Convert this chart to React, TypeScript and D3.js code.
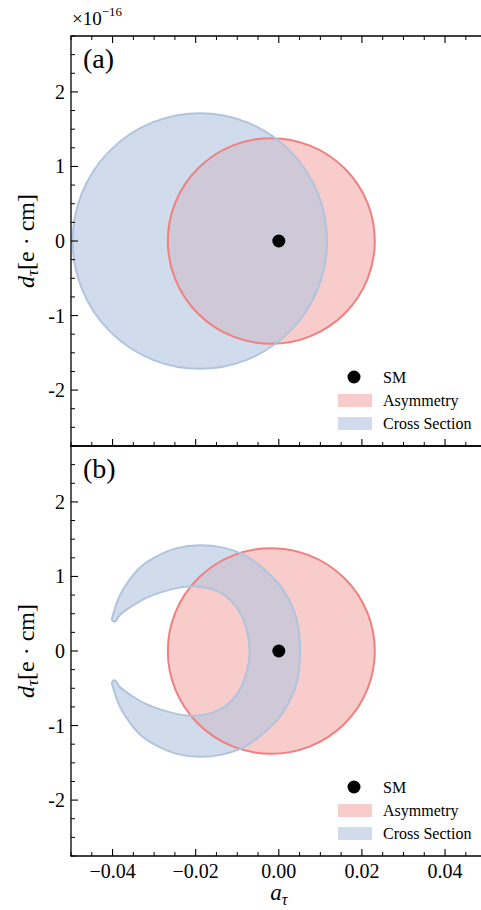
import React from "react";
import * as d3 from "d3";

// ---------- data ----------
const xDomain = [-0.05, 0.05];
const yDomain = [-2.75, 2.75];
const xMajorTicks = [-0.04, -0.02, 0, 0.02, 0.04];
const xTickLabels = ["\u22120.04", "\u22120.02", "0.00", "0.02", "0.04"];
const yMajorTicks = [-2, -1, 0, 1, 2];
const yTickLabels = ["-2", "-1", "0", "1", "2"];

const smPoint = [0, 0];
const asymCenter = [-0.0018, 0];
const asymRadius = [0.0249, 1.38];
const xsecCenterA = [-0.019, 0];
const xsecRadiusA = [0.0306, 1.715];

// crescent (panel b) upper-half boundary, mirrored for lower half
const crescentOuterA = [-0.0401, -0.0397, -0.0383, -0.0361, -0.0332, -0.0294, -0.0245, -0.019, -0.0137, -0.0084, -0.0036, 0.0007, 0.0036, 0.0048, 0.0051];
const crescentOuterD = [0.415, 0.52, 0.74, 0.94, 1.13, 1.27, 1.38, 1.42, 1.39, 1.29, 1.1, 0.85, 0.55, 0.28, 0];
const crescentInnerA = [-0.0394, -0.0383, -0.0354, -0.032, -0.0282, -0.0240, -0.0205, -0.0168, -0.0131, -0.0101, -0.0078, -0.007];
const crescentInnerD = [0.395, 0.48, 0.6, 0.71, 0.79, 0.85, 0.87, 0.84, 0.75, 0.58, 0.3, 0];

const legendLabels = ["SM", "Asymmetry", "Cross Section"];

// ---------- style ----------
const RED_FILL = "rgba(240,128,128,0.4)";
const RED_EDGE = "#f08080";
const BLUE_FILL = "rgba(176,196,222,0.6)";
const BLUE_EDGE = "#b0c4de";
const FONT = "Liberation Serif";

const W = 481;
const H = 910;
const LEFT = 71;
const RIGHT = 486.6;

const T = (props: any) => <text style={{ fontFamily: FONT }} fill="#000" {...props} />;

export default function App() {
  const x = d3.scaleLinear().domain(xDomain).range([LEFT, RIGHT]);
  const panels = [
    { key: "a", top: 36, bottom: 446, label: "(a)", topTicks: true },
    { key: "b", top: 446, bottom: 856, label: "(b)", topTicks: false },
  ];

  const xMinor = d3.range(-0.05, 0.0501, 0.005).filter(
    (v) => !xMajorTicks.some((m) => Math.abs(m - v) < 1e-9)
  );
  const yMinor = d3.range(-2.75, 2.7501, 0.25).filter(
    (v) => !yMajorTicks.some((m) => Math.abs(m - v) < 1e-9)
  );

  const upperOuter = crescentOuterA.map((a, i) => [a, crescentOuterD[i]]);
  const lowerOuter = upperOuter.slice(0, -1).reverse().map(([a, d]) => [a, -d]);
  const upperInner = crescentInnerA.map((a, i) => [a, crescentInnerD[i]]);
  const lowerInner = upperInner.map(([a, d]) => [a, -d]);
  const innerBack = upperInner.slice(0, -1).reverse();
  const crescentPts = [...upperOuter, ...lowerOuter, ...lowerInner, ...innerBack];

  return (
    <svg
      width={W}
      height={H}
      style={{ position: "absolute", left: 0, top: 0, background: "#fff", fontFamily: FONT }}
    >
      <rect x={0} y={0} width={W} height={H} fill="#fff" />
      <defs>
        {panels.map((p) => (
          <clipPath id={`clip-${p.key}`} key={p.key}>
            <rect x={LEFT} y={p.top} width={RIGHT - LEFT} height={p.bottom - p.top} />
          </clipPath>
        ))}
      </defs>
      {panels.map((p, pi) => {
        const y = d3.scaleLinear().domain(yDomain).range([p.bottom, p.top]);
        const rx = (c: number[], r: number[]) => x(c[0] + r[0]) - x(c[0]);
        const ry = (c: number[], r: number[]) => y(c[1]) - y(c[1] + r[1]);
        const line = d3
          .line<number[]>()
          .x((d) => x(d[0]))
          .y((d) => y(d[1]))
          .curve(d3.curveCatmullRomClosed.alpha(0.5));
        const crescentPath = line(crescentPts) || "";
        const legTop = p.top;
        return (
          <g key={p.key}>
            <g clipPath={`url(#clip-${p.key})`}>
              <ellipse
                cx={x(asymCenter[0])}
                cy={y(asymCenter[1])}
                rx={rx(asymCenter, asymRadius)}
                ry={ry(asymCenter, asymRadius)}
                fill={RED_FILL}
              />
              {pi === 0 ? (
                <ellipse
                  cx={x(xsecCenterA[0])}
                  cy={y(xsecCenterA[1])}
                  rx={rx(xsecCenterA, xsecRadiusA)}
                  ry={ry(xsecCenterA, xsecRadiusA)}
                  fill={BLUE_FILL}
                />
              ) : (
                <path d={crescentPath} fill={BLUE_FILL} />
              )}
              <ellipse
                cx={x(asymCenter[0])}
                cy={y(asymCenter[1])}
                rx={rx(asymCenter, asymRadius)}
                ry={ry(asymCenter, asymRadius)}
                fill="none"
                stroke={RED_EDGE}
                strokeWidth={2}
              />
              {pi === 0 ? (
                <ellipse
                  cx={x(xsecCenterA[0])}
                  cy={y(xsecCenterA[1])}
                  rx={rx(xsecCenterA, xsecRadiusA)}
                  ry={ry(xsecCenterA, xsecRadiusA)}
                  fill="none"
                  stroke={BLUE_EDGE}
                  strokeWidth={2}
                />
              ) : (
                <path d={crescentPath} fill="none" stroke={BLUE_EDGE} strokeWidth={2} strokeLinejoin="round" />
              )}
              <circle cx={x(smPoint[0])} cy={y(smPoint[1])} r={6.5} fill="#000" />
            </g>

            {/* spines */}
            <line x1={LEFT} x2={LEFT} y1={p.top} y2={p.bottom} stroke="#000" strokeWidth={1.3} />
            <line x1={RIGHT} x2={RIGHT} y1={p.top} y2={p.bottom} stroke="#000" strokeWidth={1.3} />
            <line x1={LEFT - 0.65} x2={RIGHT} y1={p.top} y2={p.top} stroke="#000" strokeWidth={1.3} />
            <line x1={LEFT - 0.65} x2={RIGHT} y1={p.bottom} y2={p.bottom} stroke="#000" strokeWidth={1.3} />

            {xMajorTicks.map((v) => (
              <line key={`xb${v}`} x1={x(v)} x2={x(v)} y1={p.bottom} y2={p.bottom - 7} stroke="#000" strokeWidth={1.1} />
            ))}
            {xMinor.map((v) => (
              <line key={`xbm${v}`} x1={x(v)} x2={x(v)} y1={p.bottom} y2={p.bottom - 4} stroke="#000" strokeWidth={1} />
            ))}
            {p.topTicks &&
              xMajorTicks.map((v) => (
                <line key={`xt${v}`} x1={x(v)} x2={x(v)} y1={p.top} y2={p.top + 7} stroke="#000" strokeWidth={1.1} />
              ))}
            {p.topTicks &&
              xMinor.map((v) => (
                <line key={`xtm${v}`} x1={x(v)} x2={x(v)} y1={p.top} y2={p.top + 4} stroke="#000" strokeWidth={1} />
              ))}

            {yMajorTicks.map((v, i) => (
              <g key={`y${v}`}>
                <line x1={LEFT} x2={LEFT + 7} y1={y(v)} y2={y(v)} stroke="#000" strokeWidth={1.1} />
                <T x={65} y={y(v) + 7} fontSize={20} textAnchor="end">
                  {yTickLabels[i]}
                </T>
              </g>
            ))}
            {yMinor.map((v) => (
              <line key={`ym${v}`} x1={LEFT} x2={LEFT + 4} y1={y(v)} y2={y(v)} stroke="#000" strokeWidth={1} />
            ))}

            <T
              transform={`translate(34,${(p.top + p.bottom) / 2}) rotate(-90)`}
              textAnchor="middle"
              fontSize={24}
            >
              <tspan fontStyle="italic">d</tspan>
              <tspan fontStyle="italic" fontSize={17} dy={4}>τ</tspan>
              <tspan dy={-4}>[e{"\u2005·\u2005"}cm]</tspan>
            </T>

            <T x={83} y={p.top + 32} fontSize={28}>
              {p.label}
            </T>

            <circle cx={354} cy={legTop + 341} r={6.5} fill="#000" />
            <T x={383} y={legTop + 347} fontSize={16}>{legendLabels[0]}</T>
            <rect x={338} y={legTop + 358} width={34} height={13} fill={RED_FILL} />
            <T x={383} y={legTop + 370} fontSize={16}>{legendLabels[1]}</T>
            <rect x={338} y={legTop + 381} width={34} height={13} fill={BLUE_FILL} />
            <T x={383} y={legTop + 393} fontSize={16}>{legendLabels[2]}</T>
          </g>
        );
      })}

      {xMajorTicks.map((v, i) => (
        <T key={`xl${v}`} x={x(v)} y={878} fontSize={20} textAnchor="middle">
          {xTickLabels[i]}
        </T>
      ))}
      <T x={x(0)} y={900} fontSize={23} textAnchor="middle">
        <tspan fontStyle="italic">a</tspan>
        <tspan fontStyle="italic" fontSize={16} dy={5}>τ</tspan>
      </T>

      <T x={72} y={25} fontSize={19}>
        ×10
        <tspan fontSize={13} dy={-9}>−16</tspan>
      </T>
    </svg>
  );
}
